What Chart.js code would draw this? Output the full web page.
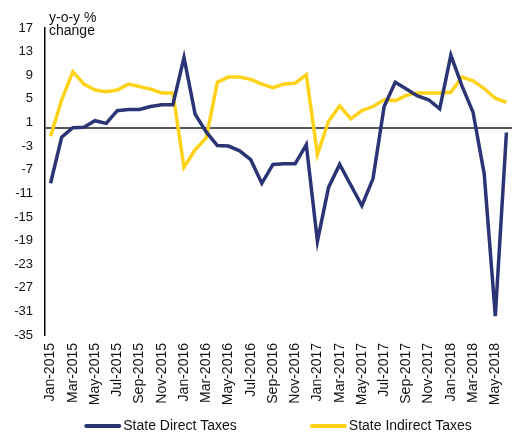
<!DOCTYPE html>
<html>
<head>
<meta charset="utf-8">
<script src="https://cdn.jsdelivr.net/npm/chart.js@4.4.1/dist/chart.umd.min.js"></script>
<style>
html,body{margin:0;padding:0;background:#fff;}
#wrap{width:512px;height:432px;position:relative;}
</style>
</head>
<body>
<div id="wrap"><canvas id="c" width="512" height="432"></canvas></div>
<script>
const months = ["Jan-2015","Feb-2015","Mar-2015","Apr-2015","May-2015","Jun-2015","Jul-2015","Aug-2015","Sep-2015","Oct-2015","Nov-2015","Dec-2015",
"Jan-2016","Feb-2016","Mar-2016","Apr-2016","May-2016","Jun-2016","Jul-2016","Aug-2016","Sep-2016","Oct-2016","Nov-2016","Dec-2016",
"Jan-2017","Feb-2017","Mar-2017","Apr-2017","May-2017","Jun-2017","Jul-2017","Aug-2017","Sep-2017","Oct-2017","Nov-2017","Dec-2017",
"Jan-2018","Feb-2018","Mar-2018","Apr-2018","May-2018","Jun-2018"];
const directTaxes = [-9.3,-1.5,0.1,0.2,1.3,0.85,3.0,3.2,3.2,3.7,4.0,4.0,
12.0,2.4,-0.6,-2.9,-3.0,-3.8,-5.3,-9.3,-6.1,-6.0,-6.0,-2.75,
-19.1,-10.0,-6.1,-9.6,-13.1,-8.5,3.7,7.8,6.65,5.5,4.85,3.3,
12.4,7.2,2.7,-7.7,-31.8,-0.7];
const indirectTaxes = [-1.35,4.85,9.6,7.5,6.5,6.2,6.5,7.5,7.1,6.65,6.0,6.0,
-6.6,-3.65,-1.6,7.8,8.7,8.7,8.3,7.5,6.9,7.5,7.65,9.1,
-4.4,1.2,3.8,1.6,3.0,3.7,4.85,4.7,5.6,6.0,6.0,6.0,
6.1,8.7,8.05,6.75,5.1,4.4];
const yTicks = [17,13,9,5,1,-3,-7,-11,-15,-19,-23,-27,-31,-35];
const seriesNames = ["State Direct Taxes","State Indirect Taxes"];
const seriesColors = ["#2b3474","#ffd21a"];
const yTitle = ["y-o-y %","change"];

const FONT = "'Liberation Sans', Arial, sans-serif";

const extras = {
  id:'extras',
  beforeDatasetsDraw(chart){
    const {ctx, chartArea, scales:{y}} = chart;
    const py = Math.round(y.getPixelForValue(0));
    ctx.save();
    ctx.strokeStyle = '#555555';
    ctx.lineWidth = 2;
    ctx.beginPath();
    ctx.moveTo(chartArea.left, py);
    ctx.lineTo(chart.width, py);
    ctx.stroke();
    ctx.restore();
  },
  afterDraw(chart){
    const {ctx, chartArea} = chart;
    ctx.save();
    ctx.fillStyle = '#111';
    ctx.font = '14px ' + FONT;
    ctx.textAlign = 'left';
    ctx.textBaseline = 'alphabetic';
    ctx.fillText(yTitle[0], chartArea.left + 4, 22);
    ctx.fillText(yTitle[1], chartArea.left + 4, 35);

    // legend
    const lineW = 35, gapText = 3, itemGap = 74, ly = 426;
    const items = chart.data.datasets.map(d => ({label:d.label, color:d.borderColor, w: lineW + gapText + ctx.measureText(d.label).width}));
    const total = items.reduce((a,b)=>a+b.w,0) + itemGap*(items.length-1);
    let x = (chartArea.left + chartArea.right)/2 - total/2;
    ctx.textBaseline = 'middle';
    items.forEach(it=>{
      ctx.strokeStyle = it.color;
      ctx.lineWidth = 4;
      ctx.lineCap = 'round';
      ctx.beginPath();
      ctx.moveTo(x+1, ly); ctx.lineTo(x+lineW-1, ly);
      ctx.stroke();
      ctx.fillStyle = '#111';
      ctx.fillText(it.label, x + lineW + gapText, ly + 0.5);
      x += it.w + itemGap;
    });
    ctx.restore();
  }
};

new Chart(document.getElementById('c'), {
  type:'line',
  data:{
    labels: months,
    datasets:[
      {label: seriesNames[0], data: directTaxes, borderColor:seriesColors[0], backgroundColor:seriesColors[0], borderWidth:3.5, pointRadius:0, tension:0, fill:false},
      {label: seriesNames[1], data: indirectTaxes, borderColor:seriesColors[1], backgroundColor:seriesColors[1], borderWidth:3.5, pointRadius:0, tension:0, fill:false}
    ]
  },
  options:{
    responsive:false,
    animation:false,
    devicePixelRatio:1,
    layout:{padding:{left:0, right:0, top:28, bottom:0}},
    plugins:{
      legend:{display:false},
      tooltip:{enabled:false}
    },
    scales:{
      x:{
        offset:true,
        grid:{display:false, drawTicks:false},
        border:{display:false},
        ticks:{
          autoSkip:false, maxRotation:90, minRotation:90, padding:8,
          color:'#111', font:{family:FONT, size:14},
          callback:function(v,i){ return i%2===0 ? months[i] : null; }
        },
        afterFit:(s)=>{ s.paddingLeft = 0; s.paddingRight = 0; s.height = 97; }
      },
      y:{
        min:-35, max:17,
        afterBuildTicks:(s)=>{ s.ticks = yTicks.slice().reverse().map(v=>({value:v})); },
        grid:{display:false, drawTicks:false},
        border:{display:true, color:'#000', width:1.5},
        ticks:{autoSkip:false, padding:12, color:'#111', font:{family:FONT, size:13}},
        afterFit:(s)=>{ s.paddingTop = 0; s.paddingBottom = 0; s.width = 45; }
      }
    }
  },
  plugins:[extras]
});
</script>
</body>
</html>
